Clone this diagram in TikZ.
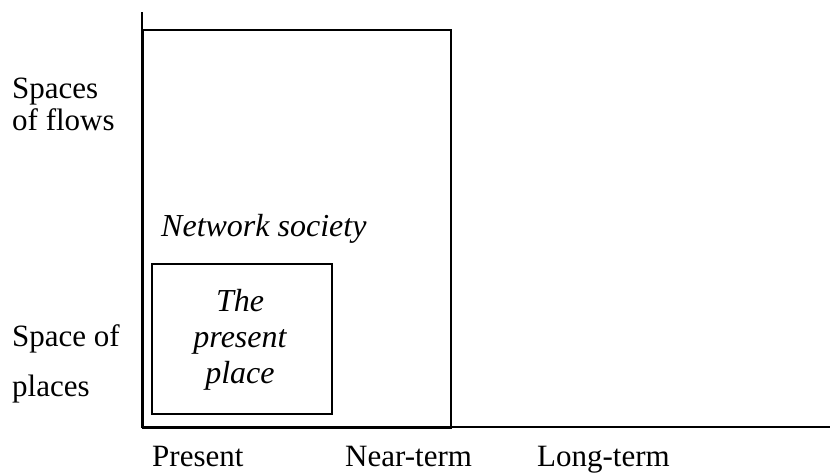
\documentclass[tikz,border=0pt]{standalone}
\usepackage{fontspec}
\setmainfont{Liberation Serif}
\begin{document}
\begin{tikzpicture}[x=1pt,y=-1pt,
  frame/.style={draw=black,line width=1.7pt},
  axisline/.style={draw=black,line width=1.7pt},
  lbl/.style={inner sep=0pt,anchor=base west,font=\fontsize{31}{36}\selectfont},
  ital/.style={inner sep=0pt,anchor=base,font=\fontsize{32}{36}\selectfont\itshape}]
  \useasboundingbox (0,0) rectangle (830,474);
  % axes
  \coordinate (origin) at (142,427);
  \coordinate (ytop) at (142,12);
  \coordinate (xend) at (830,427);
  \draw[axisline] (ytop) -- (origin) -- (xend);
  % network society region and the present place inside it
  \node[frame,inner sep=0pt,minimum width=308pt,minimum height=398pt,anchor=north west] (society) at (142,29) {};
  \node[frame,inner sep=0pt,minimum width=180pt,minimum height=150pt,anchor=north west] (place) at (151,263) {};
  \node[ital,anchor=base west] (societylbl) at (161,236) {Network society};
  \node[ital] (placelbl1) at (240,311) {The};
  \node[ital] (placelbl2) at (240,347) {present};
  \node[ital] (placelbl3) at (240,383) {place};
  % vertical axis labels
  \node[lbl] (flows1) at (12,98) {Spaces};
  \node[lbl] (flows2) at (12,130) {of flows};
  \node[lbl] (places1) at (12,346) {Space of};
  \node[lbl] (places2) at (12,396) {places};
  % horizontal axis labels
  \node[lbl] (present) at (152,466) {Present};
  \node[lbl] (near) at (345,466) {Near-term};
  \node[lbl] (long) at (537,466) {Long-term};
\end{tikzpicture}
\end{document}
